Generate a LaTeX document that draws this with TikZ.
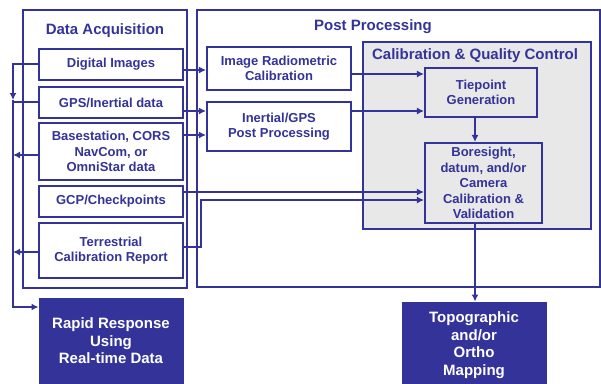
\documentclass[tikz,border=0pt]{standalone}
\usepackage{fontspec}
\setmainfont{Liberation Sans}
\usetikzlibrary{arrows.meta}
\definecolor{navy}{HTML}{333399}
\definecolor{panel}{HTML}{E8E8E8}
\begin{document}
\begin{tikzpicture}[x=1pt,y=-1pt,
  frame/.style={draw=navy, line width=1.7pt, inner sep=0pt},
  heading/.style={text=navy, font=\fontsize{15}{17}\selectfont\bfseries, inner sep=0pt},
  item/.style={draw=navy, line width=2.1pt, text=navy, align=center, inner sep=0pt,
    font=\fontsize{13}{15.5}\selectfont\bfseries},
  result/.style={draw=navy, fill=navy, line width=1pt, text=white, align=center, inner sep=0pt,
    font=\fontsize{15}{17.5}\selectfont\bfseries},
  conn/.style={draw=navy, line width=2.8pt, -{Latex[length=7pt,width=7pt]}},
  wire/.style={draw=navy, line width=2.8pt}]
\useasboundingbox (0,0) rectangle (601,383);

% group frames
\node[frame, minimum width=164pt, minimum height=278pt] (acq) at (105,149) {};
\node[frame, minimum width=403pt, minimum height=277pt] (post) at (398.5,148.5) {};
\node[frame, fill=panel, minimum width=228pt, minimum height=187pt] (cqc) at (477,135.5) {};
\node[heading] (acqtitle) at (105,31) {Data Acquisition};
\node[heading] (posttitle) at (373,27) {Post Processing};
\node[heading] (cqctitle) at (475,56) {Calibration \& Quality Control};

% data acquisition items
\node[item, fill=white, minimum width=144pt, minimum height=31pt] (di) at (111,64.5) {Digital Images};
\node[item, fill=white, minimum width=144pt, minimum height=31pt] (gps) at (111,102.5) {GPS/Inertial data};
\node[item, fill=white, minimum width=144pt, minimum height=57pt] (base) at (111,151.5) {Basestation, CORS\\NavCom, or\\OmniStar data};
\node[item, fill=white, minimum width=144pt, minimum height=31pt] (gcp) at (111,201.5) {GCP/Checkpoints};
\node[item, fill=white, minimum width=144pt, minimum height=55pt] (terr) at (111,250.5) {Terrestrial\\Calibration Report};

% post processing items
\node[item, fill=white, minimum width=144pt, minimum height=43pt] (irc) at (279,68.5) {Image Radiometric\\Calibration};
\node[item, fill=white, minimum width=144pt, minimum height=49pt] (igps) at (279,126.5) {Inertial/GPS\\Post Processing};
\node[item, minimum width=112pt, minimum height=49pt] (tie) at (481,92.5) {Tiepoint\\Generation};
\node[item, minimum width=117pt, minimum height=80pt] (bore) at (483.5,183) {Boresight,\\datum, and/or\\Camera\\Calibration \&\\Validation};

% products
\node[result, minimum width=144pt, minimum height=86pt] (rapid) at (111,341) {Rapid Response\\Using\\Real-time Data};
\node[result, minimum width=144pt, minimum height=86pt] (topo) at (474,345) {Topographic\\and/or\\Ortho\\Mapping};

% helper coordinates for the wire routes
\coordinate (busTop) at (13,64);
\coordinate (busArrow) at (13,100);
\coordinate (busEnd) at (13,307);
\coordinate (yGps) at (0,102);
\coordinate (yBase) at (0,155);
\coordinate (yTerr) at (0,252);
\coordinate (rA) at (0,70);
\coordinate (rB) at (0,111);
\coordinate (rC) at (0,135);
\coordinate (rD) at (0,74);
\coordinate (rE) at (0,192);
\coordinate (rF) at (0,247);
\coordinate (rG) at (0,200);
\coordinate (bend) at (201,247);
\coordinate (xDown) at (475,0);

% real-time bus on the left
\draw[conn] (di.west |- busTop) -- (busTop) -- (busArrow);
\draw[conn] (busArrow) -- (busEnd) -- (rapid.west |- busEnd);
\draw[wire] (gps.west |- yGps) -- (busTop |- yGps);
\draw[conn] (base.west |- yBase) -- (busTop |- yBase);
\draw[conn] (terr.west |- yTerr) -- (busTop |- yTerr);

% post processing flow
\draw[conn] (di.east |- rA) -- (irc.west |- rA);
\draw[conn] (gps.east |- rB) -- (igps.west |- rB);
\draw[conn] (base.east |- rC) -- (igps.west |- rC);
\draw[conn] (irc.east |- rD) -- (tie.west |- rD);
\draw[conn] (igps.east |- rB) -- (tie.west |- rB);
\draw[conn] (tie.south -| xDown) -- (bore.north -| xDown);
\draw[conn] (gcp.east |- rE) -- (bore.west |- rE);
\draw[conn] (terr.east |- rF) -- (bend) -- (bend |- rG) -- (bore.west |- rG);
\draw[conn] (bore.south -| xDown) -- (topo.north -| xDown);
\end{tikzpicture}
\end{document}
